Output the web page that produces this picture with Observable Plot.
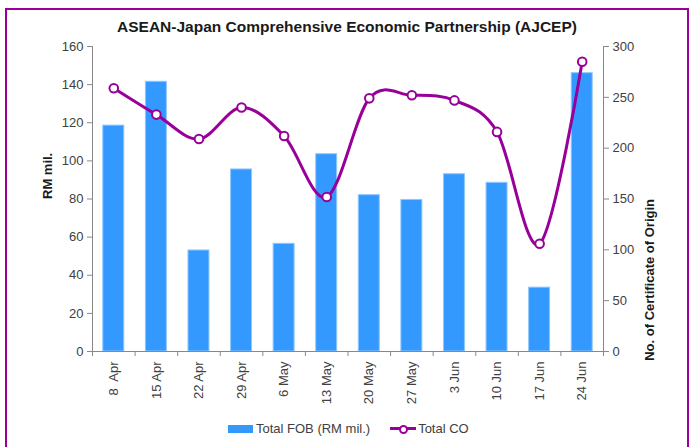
<!DOCTYPE html>
<html>
<head>
<meta charset="utf-8">
<script src="https://cdn.jsdelivr.net/npm/d3@7"></script>
<script src="https://cdn.jsdelivr.net/npm/@observablehq/plot@0.6"></script>
<style>
  html, body { margin: 0; padding: 0; background: #fff; }
  #wrap { position: relative; width: 694px; height: 447px; overflow: hidden; font-family: "Liberation Sans", Arial, sans-serif; }
  #frame { position: absolute; left: 5px; top: 8px; width: 684px; height: 460px; border: 2.5px solid #990099; box-sizing: border-box; }
  #title { position: absolute; left: 0; width: 694px; top: 18px; text-align: center; font-size: 15.5px; font-weight: bold; color: #1a1a1a; }
  #chart { position: absolute; left: 0; top: 0; }
  #legend { position: absolute; top: 421px; left: 228px; font-size: 13px; color: #404040; display: flex; align-items: center; }
  .sw-bar { display: inline-block; width: 25px; height: 8px; background: #3399ff; margin-right: 3px; }
  .sw-line { display: inline-block; position: relative; width: 26px; height: 14px; margin-left: 20px; margin-right: 2px; }
  .sw-line::before { content: ""; position: absolute; left: 0; right: 0; top: 5.5px; height: 3px; background: #990099; }
  .sw-line::after { content: ""; position: absolute; left: 8.5px; top: 3px; width: 5px; height: 5px; border: 2px solid #990099; border-radius: 50%; background: #fff; }
</style>
</head>
<body>
<div id="wrap">
  <div id="frame"></div>
  <div id="chart"></div>
  <div id="title">ASEAN-Japan Comprehensive Economic Partnership (AJCEP)</div>
  <div id="legend"><span class="sw-bar"></span>Total FOB (RM mil.)<span class="sw-line"></span>Total CO</div>
</div>
<script>
const weeks = ["8  Apr", "15 Apr", "22 Apr", "29 Apr", "6 May", "13 May", "20 May", "27 May", "3 Jun", "10 Jun", "17 Jun", "24 Jun"];
const totalFOB = [118.5, 141.5, 53, 95.5, 56.5, 103.5, 82, 79.5, 93, 88.5, 33.5, 146];
const totalCO = [259, 233, 209, 240, 212, 152, 249, 252, 247, 216, 106, 285];
const leftTicks = [0, 20, 40, 60, 80, 100, 120, 140, 160];
const rightTicks = [0, 50, 100, 150, 200, 250, 300];

const leftMax = 160, rightMax = 300;
const k = leftMax / rightMax;

const data = weeks.map((w, i) => ({ i, week: w, fob: totalFOB[i], co: totalCO[i], coScaled: totalCO[i] * k }));

const axisColor = "#888";
const textColor = "#404040";

const chart = Plot.plot({
  width: 694,
  height: 447,
  marginLeft: 92,
  marginRight: 91,
  marginTop: 46,
  marginBottom: 96,
  style: { fontFamily: "Liberation Sans, Arial, sans-serif", fontSize: "13px", color: textColor, background: "transparent" },
  x: { type: "linear", domain: [0, weeks.length] },
  y: { domain: [0, leftMax] },
  marks: [
    Plot.rectY(data, { x1: d => d.i, x2: d => d.i + 1, y: "fob", insetLeft: 10.8, insetRight: 10.8, fill: "#3399ff", stroke: "#8fc7ff", strokeWidth: 1 }),
    Plot.ruleY([0], { stroke: axisColor }),
    Plot.axisY({ ticks: leftTicks, tickSize: 5, tickPadding: 4, stroke: axisColor, fill: textColor, label: null }),
    Plot.ruleX([0], { stroke: axisColor }),
    Plot.axisY({ anchor: "right", ticks: rightTicks.map(v => v * k), tickFormat: v => Math.round(v / k), tickSize: 5, tickPadding: 4, stroke: axisColor, fill: textColor, label: null }),
    Plot.ruleX([weeks.length], { stroke: axisColor }),
    Plot.axisX({ ticks: d3.range(weeks.length + 1), tickFormat: () => "", tickSize: 5, stroke: axisColor, label: null }),
    Plot.axisX({ ticks: d3.range(weeks.length).map(i => i + 0.5), tickFormat: v => weeks[Math.floor(v)], tickSize: 0, tickPadding: 10, tickRotate: -90, fill: textColor, label: null }),
    Plot.line(data, { x: d => d.i + 0.5, y: "coScaled", curve: "cardinal", stroke: "#990099", strokeWidth: 3 }),
    Plot.dot(data, { x: d => d.i + 0.5, y: "coScaled", r: 4.3, fill: "white", stroke: "#990099", strokeWidth: 2 }),
    Plot.text(["RM mil."], { frameAnchor: "left", dx: -45, rotate: -90, fontWeight: "bold", fontSize: 13, fill: "#1a1a1a" }),
    Plot.text(["No. of Certificate of Origin"], { frameAnchor: "right", dx: 46, rotate: -90, fontWeight: "bold", fontSize: 13, fill: "#1a1a1a" })
  ]
});
document.getElementById("chart").appendChild(chart);
</script>
</body>
</html>
